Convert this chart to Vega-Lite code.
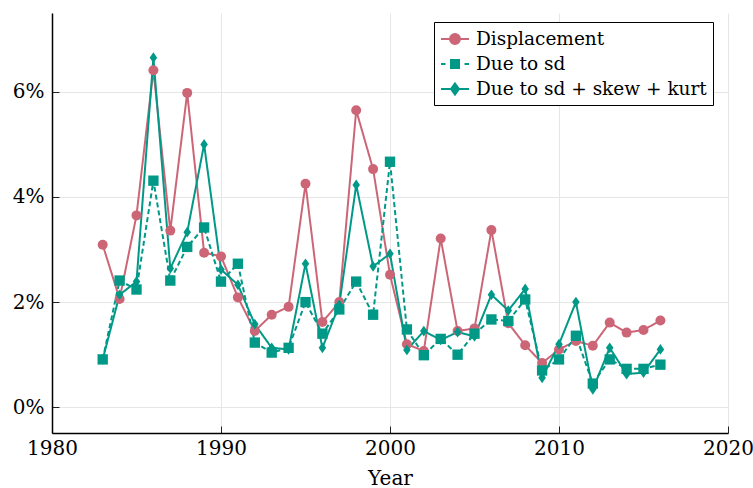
{
  "$schema": "https://vega.github.io/schema/vega-lite/v6.json",
  "width": 676,
  "height": 420,
  "autosize": {"type": "none"},
  "padding": {"left": 52, "top": 13, "right": 25, "bottom": 55},
  "background": "white",
  "config": {
    "view": {"stroke": null},
    "font": "DejaVu Serif",
    "axis": {
      "domainColor": "black",
      "domainWidth": 1.5,
      "tickColor": "#222222",
      "tickWidth": 1,
      "tickSize": -7,
      "grid": true,
      "gridColor": "#e6e6e6",
      "gridWidth": 1,
      "labelFont": "DejaVu Serif",
      "labelFontSize": 20,
      "labelColor": "black",
      "labelFlush": false,
      "titleFont": "DejaVu Serif",
      "titleFontSize": 20,
      "titleFontWeight": "normal",
      "titleColor": "black"
    },
    "legend": {
      "orient": "none",
      "legendX": 382,
      "legendY": 9,
      "labelFont": "DejaVu Serif",
      "labelFontSize": 18.5,
      "labelColor": "black",
      "labelLimit": 500,
      "labelOffset": 10,
      "symbolSize": 400,
      "symbolOffset": 4,
      "symbolStrokeWidth": 2,
      "padding": 6,
      "rowPadding": 4,
      "strokeColor": "black",
      "fillColor": "white",
      "cornerRadius": 0
    }
  },
  "data": {
    "values": [
      {"year": 1983, "series": "Displacement", "v": 0.0309},
      {"year": 1984, "series": "Displacement", "v": 0.0206},
      {"year": 1985, "series": "Displacement", "v": 0.0365},
      {"year": 1986, "series": "Displacement", "v": 0.0641},
      {"year": 1987, "series": "Displacement", "v": 0.0336},
      {"year": 1988, "series": "Displacement", "v": 0.0598},
      {"year": 1989, "series": "Displacement", "v": 0.0294},
      {"year": 1990, "series": "Displacement", "v": 0.0287},
      {"year": 1991, "series": "Displacement", "v": 0.0209},
      {"year": 1992, "series": "Displacement", "v": 0.0145},
      {"year": 1993, "series": "Displacement", "v": 0.0176},
      {"year": 1994, "series": "Displacement", "v": 0.0191},
      {"year": 1995, "series": "Displacement", "v": 0.0425},
      {"year": 1996, "series": "Displacement", "v": 0.0162},
      {"year": 1997, "series": "Displacement", "v": 0.0200},
      {"year": 1998, "series": "Displacement", "v": 0.0565},
      {"year": 1999, "series": "Displacement", "v": 0.0453},
      {"year": 2000, "series": "Displacement", "v": 0.0252},
      {"year": 2001, "series": "Displacement", "v": 0.0120},
      {"year": 2002, "series": "Displacement", "v": 0.0107},
      {"year": 2003, "series": "Displacement", "v": 0.0321},
      {"year": 2004, "series": "Displacement", "v": 0.0145},
      {"year": 2005, "series": "Displacement", "v": 0.0150},
      {"year": 2006, "series": "Displacement", "v": 0.0337},
      {"year": 2007, "series": "Displacement", "v": 0.0160},
      {"year": 2008, "series": "Displacement", "v": 0.0118},
      {"year": 2009, "series": "Displacement", "v": 0.0084},
      {"year": 2010, "series": "Displacement", "v": 0.0110},
      {"year": 2011, "series": "Displacement", "v": 0.0126},
      {"year": 2012, "series": "Displacement", "v": 0.0117},
      {"year": 2013, "series": "Displacement", "v": 0.0161},
      {"year": 2014, "series": "Displacement", "v": 0.0142},
      {"year": 2015, "series": "Displacement", "v": 0.0147},
      {"year": 2016, "series": "Displacement", "v": 0.0165},
      {"year": 1983, "series": "Due to sd", "v": 0.0091},
      {"year": 1984, "series": "Due to sd", "v": 0.0241},
      {"year": 1985, "series": "Due to sd", "v": 0.0224},
      {"year": 1986, "series": "Due to sd", "v": 0.0431},
      {"year": 1987, "series": "Due to sd", "v": 0.0241},
      {"year": 1988, "series": "Due to sd", "v": 0.0305},
      {"year": 1989, "series": "Due to sd", "v": 0.0342},
      {"year": 1990, "series": "Due to sd", "v": 0.0239},
      {"year": 1991, "series": "Due to sd", "v": 0.0273},
      {"year": 1992, "series": "Due to sd", "v": 0.0123},
      {"year": 1993, "series": "Due to sd", "v": 0.0104},
      {"year": 1994, "series": "Due to sd", "v": 0.0113},
      {"year": 1995, "series": "Due to sd", "v": 0.0200},
      {"year": 1996, "series": "Due to sd", "v": 0.0140},
      {"year": 1997, "series": "Due to sd", "v": 0.0186},
      {"year": 1998, "series": "Due to sd", "v": 0.0239},
      {"year": 1999, "series": "Due to sd", "v": 0.0176},
      {"year": 2000, "series": "Due to sd", "v": 0.0467},
      {"year": 2001, "series": "Due to sd", "v": 0.0148},
      {"year": 2002, "series": "Due to sd", "v": 0.0099},
      {"year": 2003, "series": "Due to sd", "v": 0.0130},
      {"year": 2004, "series": "Due to sd", "v": 0.0100},
      {"year": 2005, "series": "Due to sd", "v": 0.0140},
      {"year": 2006, "series": "Due to sd", "v": 0.0167},
      {"year": 2007, "series": "Due to sd", "v": 0.0164},
      {"year": 2008, "series": "Due to sd", "v": 0.0205},
      {"year": 2009, "series": "Due to sd", "v": 0.0070},
      {"year": 2010, "series": "Due to sd", "v": 0.0091},
      {"year": 2011, "series": "Due to sd", "v": 0.0136},
      {"year": 2012, "series": "Due to sd", "v": 0.0045},
      {"year": 2013, "series": "Due to sd", "v": 0.0091},
      {"year": 2014, "series": "Due to sd", "v": 0.0073},
      {"year": 2015, "series": "Due to sd", "v": 0.0073},
      {"year": 2016, "series": "Due to sd", "v": 0.0081},
      {"year": 1983, "series": "Due to sd + skew + kurt", "v": 0.0091},
      {"year": 1984, "series": "Due to sd + skew + kurt", "v": 0.0214},
      {"year": 1985, "series": "Due to sd + skew + kurt", "v": 0.0239},
      {"year": 1986, "series": "Due to sd + skew + kurt", "v": 0.0665},
      {"year": 1987, "series": "Due to sd + skew + kurt", "v": 0.0264},
      {"year": 1988, "series": "Due to sd + skew + kurt", "v": 0.0333},
      {"year": 1989, "series": "Due to sd + skew + kurt", "v": 0.0500},
      {"year": 1990, "series": "Due to sd + skew + kurt", "v": 0.0262},
      {"year": 1991, "series": "Due to sd + skew + kurt", "v": 0.0233},
      {"year": 1992, "series": "Due to sd + skew + kurt", "v": 0.0158},
      {"year": 1993, "series": "Due to sd + skew + kurt", "v": 0.0113},
      {"year": 1994, "series": "Due to sd + skew + kurt", "v": 0.0110},
      {"year": 1995, "series": "Due to sd + skew + kurt", "v": 0.0273},
      {"year": 1996, "series": "Due to sd + skew + kurt", "v": 0.0113},
      {"year": 1997, "series": "Due to sd + skew + kurt", "v": 0.0195},
      {"year": 1998, "series": "Due to sd + skew + kurt", "v": 0.0423},
      {"year": 1999, "series": "Due to sd + skew + kurt", "v": 0.0268},
      {"year": 2000, "series": "Due to sd + skew + kurt", "v": 0.0292},
      {"year": 2001, "series": "Due to sd + skew + kurt", "v": 0.0109},
      {"year": 2002, "series": "Due to sd + skew + kurt", "v": 0.0145},
      {"year": 2003, "series": "Due to sd + skew + kurt", "v": 0.0128},
      {"year": 2004, "series": "Due to sd + skew + kurt", "v": 0.0143},
      {"year": 2005, "series": "Due to sd + skew + kurt", "v": 0.0135},
      {"year": 2006, "series": "Due to sd + skew + kurt", "v": 0.0214},
      {"year": 2007, "series": "Due to sd + skew + kurt", "v": 0.0184},
      {"year": 2008, "series": "Due to sd + skew + kurt", "v": 0.0225},
      {"year": 2009, "series": "Due to sd + skew + kurt", "v": 0.0056},
      {"year": 2010, "series": "Due to sd + skew + kurt", "v": 0.0120},
      {"year": 2011, "series": "Due to sd + skew + kurt", "v": 0.0200},
      {"year": 2012, "series": "Due to sd + skew + kurt", "v": 0.0034},
      {"year": 2013, "series": "Due to sd + skew + kurt", "v": 0.0113},
      {"year": 2014, "series": "Due to sd + skew + kurt", "v": 0.0063},
      {"year": 2015, "series": "Due to sd + skew + kurt", "v": 0.0066},
      {"year": 2016, "series": "Due to sd + skew + kurt", "v": 0.0110}
    ]
  },
  "encoding": {
    "x": {
      "field": "year",
      "type": "quantitative",
      "scale": {"domain": [1980, 2020], "nice": false, "zero": false},
      "axis": {
        "values": [1980, 1990, 2000, 2010, 2020],
        "format": "d",
        "title": "Year",
        "labelPadding": 12,
        "titleY": 51,
        "titleBaseline": "alphabetic"
      }
    },
    "y": {
      "field": "v",
      "type": "quantitative",
      "scale": {"domain": [-0.0049, 0.075], "nice": false, "zero": false},
      "axis": {
        "values": [0, 0.02, 0.04, 0.06],
        "format": ".0%",
        "title": null,
        "labelPadding": 15
      }
    }
  },
  "resolve": {"scale": {"shape": "independent", "fill": "independent", "stroke": "independent"}},
  "layer": [
    {
      "mark": {"type": "line", "strokeWidth": 2},
      "encoding": {
        "color": {
          "field": "series",
          "type": "nominal",
          "scale": {
            "domain": ["Displacement", "Due to sd", "Due to sd + skew + kurt"],
            "range": ["#cc6677", "#009988", "#009988"]
          },
          "legend": null
        },
        "strokeDash": {
          "field": "series",
          "type": "nominal",
          "scale": {
            "domain": ["Displacement", "Due to sd", "Due to sd + skew + kurt"],
            "range": [[1, 0], [5, 3], [1, 0]]
          },
          "legend": null
        }
      }
    },
    {
      "mark": {"type": "point", "filled": true, "opacity": 1},
      "encoding": {
        "color": {
          "field": "series",
          "type": "nominal",
          "scale": {
            "domain": ["Displacement", "Due to sd", "Due to sd + skew + kurt"],
            "range": ["#cc6677", "#009988", "#009988"]
          },
          "legend": null
        },
        "shape": {
          "field": "series",
          "type": "nominal",
          "scale": {
            "domain": ["Displacement", "Due to sd", "Due to sd + skew + kurt"],
            "range": ["circle", "square", "M0,-1L0.7,0L0,1L-0.7,0Z"]
          },
          "legend": null
        },
        "size": {
          "field": "series",
          "type": "ordinal",
          "scale": {
            "domain": ["Displacement", "Due to sd", "Due to sd + skew + kurt"],
            "range": [100, 115, 100]
          },
          "legend": null
        }
      }
    },
    {
      "transform": [{"filter": "false"}],
      "mark": {"type": "point", "filled": true, "opacity": 1, "strokeWidth": 2},
      "encoding": {
        "shape": {
          "field": "series",
          "type": "nominal",
          "scale": {
            "domain": ["Displacement", "Due to sd", "Due to sd + skew + kurt"],
            "range": [
              "M-1.4,0H1.4M-0.5,0A0.5,0.5 0 1,0 0.5,0A0.5,0.5 0 1,0 -0.5,0Z",
              "M-1.4,0H-0.95M0.95,0H1.4M-0.4,-0.4H0.4V0.4H-0.4Z",
              "M-1.4,0H1.4M0,-0.55L0.4,0L0,0.55L-0.4,0Z"
            ]
          },
          "legend": {"title": null}
        },
        "fill": {
          "field": "series",
          "type": "nominal",
          "scale": {
            "domain": ["Displacement", "Due to sd", "Due to sd + skew + kurt"],
            "range": ["#cc6677", "#009988", "#009988"]
          },
          "legend": {"title": null}
        },
        "stroke": {
          "field": "series",
          "type": "nominal",
          "scale": {
            "domain": ["Displacement", "Due to sd", "Due to sd + skew + kurt"],
            "range": ["#cc6677", "#009988", "#009988"]
          },
          "legend": {"title": null}
        }
      }
    }
  ]
}
